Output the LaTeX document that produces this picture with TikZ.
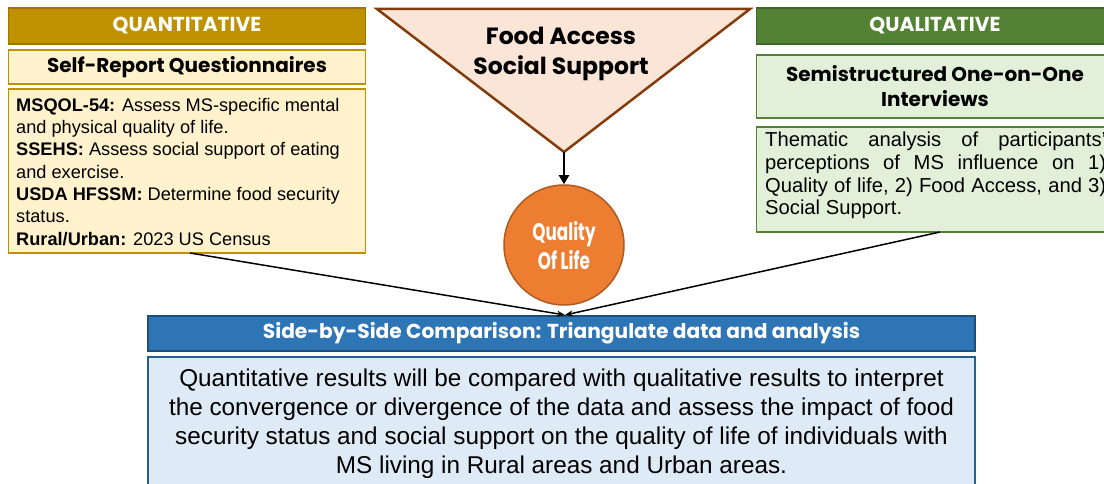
\documentclass[tikz,border=0pt]{standalone}
\usepackage{fontspec}
\setmainfont{Liberation Sans}
\newfontfamily\gothic{Poppins}
\newfontfamily\gothicn[FakeStretch=0.7]{Poppins}
\usetikzlibrary{arrows.meta}
\definecolor{cgold}{HTML}{BF9000}
\definecolor{cgolddark}{HTML}{9C7600}
\definecolor{ccream}{HTML}{FFF2CC}
\definecolor{cpeach}{HTML}{FBE5D6}
\definecolor{cbrown}{HTML}{843C0C}
\definecolor{corange}{HTML}{ED7D31}
\definecolor{corangedark}{HTML}{AE5A21}
\definecolor{cgreen}{HTML}{548235}
\definecolor{cgreendark}{HTML}{3F6428}
\definecolor{clgreen}{HTML}{E2F0D9}
\definecolor{cblue}{HTML}{2E75B6}
\definecolor{cbluedark}{HTML}{1F4E79}
\definecolor{clblue}{HTML}{DEEBF7}
\tikzset{
  box/.style={rectangle, inner sep=0pt, line width=1.2pt},
  hdrtext/.style={text=white, font=\gothic\bfseries\fontsize{20.2}{22}\selectfont},
  subtext/.style={text=black, font=\gothic\bfseries\fontsize{20}{25}\selectfont, align=center},
  body/.style={inner sep=0pt, font=\fontsize{18.2}{22.3}\selectfont},
  conn/.style={line width=1.5pt, -{Stealth[length=8pt,width=6pt]}},
}
\begin{document}
\begin{tikzpicture}[x=1pt,y=-1pt]
\useasboundingbox (0,0) rectangle (1104,484);
\clip (0,0) rectangle (1104,484);
% left column
\node[box, hdrtext, fill=cgold, draw=cgolddark, minimum width=357pt, minimum height=36pt] (quant) at (187,26) {QUANTITATIVE};
\node[box, subtext, fill=ccream, draw=cgold, minimum width=357pt, minimum height=34pt] (srq) at (187,67) {Self-Report Questionnaires};
\node[box, fill=ccream, draw=cgold, minimum width=357pt, minimum height=164pt] (det) at (187,171) {};
\node[body, anchor=north west, align=left] (dettext) at (16,98) {\textbf{MSQOL-54:} Assess MS-specific mental\\and physical quality of life.\\\textbf{SSEHS:} Assess social support of eating\\and exercise.\\\textbf{USDA HFSSM:} Determine food security\\status.\\\textbf{Rural/Urban:} 2023 US Census};
% right column
\node[box, hdrtext, fill=cgreen, draw=cgreendark, minimum width=357pt, minimum height=36pt] (qual) at (935,26) {QUALITATIVE};
\node[box, subtext, fill=clgreen, draw=cgreen, minimum width=357pt, minimum height=63pt] (ssi) at (935,86.5) {Semistructured One-on-One\\Interviews};
\node[box, fill=clgreen, draw=cgreen, minimum width=357pt, minimum height=105pt] (them) at (935,179.5) {};
\node[body, font=\fontsize{20.2}{22.7}\selectfont, anchor=north west, text width=341pt, align=justify] (themtext) at (765,132) {Thematic analysis of participants'\linebreak perceptions of MS influence on 1)\linebreak Quality of life, 2) Food Access, and 3)\linebreak Social Support.};
% triangle
\coordinate (tl) at (377,9);
\coordinate (tr) at (750,9);
\coordinate (apex) at (564,152);
\draw[fill=cpeach, draw=cbrown, line width=2.5pt, line join=miter] (tl) -- (tr) -- (apex) -- cycle;
\node[subtext, font=\gothic\bfseries\fontsize{23.5}{30}\selectfont] (food) at (561,54) {Food Access\\Social Support};
% circle
\node[circle, fill=corange, draw=corangedark, line width=1.5pt, minimum size=120pt, inner sep=0pt, text=white, align=center, font=\gothicn\bfseries\fontsize{24}{29}\selectfont] (qol) at (564,245) {Quality\\Of Life};
\draw[line width=2.5pt, -{Triangle[length=9pt,width=10pt]}] (apex) -- (qol.north);
% bottom
\node[box, hdrtext, fill=cblue, draw=cbluedark, minimum width=827pt, minimum height=35pt] (sbs) at (561.5,333.5) {Side-by-Side Comparison: Triangulate data and analysis};
\node[box, fill=clblue, draw=cblue!80!black, minimum width=827pt, minimum height=140pt] (res) at (561.5,427) {};
\node[inner sep=0pt, anchor=north, align=center, font=\fontsize{24.3}{29}\selectfont] (restext) at (561.5,369) {Quantitative results will be compared with qualitative results to interpret\\the convergence or divergence of the data and assess the impact of food\\security status and social support on the quality of life of individuals with\\MS living in Rural areas and Urban areas.};
% connectors
\coordinate (ls) at (190,253);
\coordinate (rs) at (940,232);
\coordinate (meet) at (565,315);
\draw[conn] (ls) -- (meet);
\draw[conn] (rs) -- (meet);
\end{tikzpicture}
\end{document}
